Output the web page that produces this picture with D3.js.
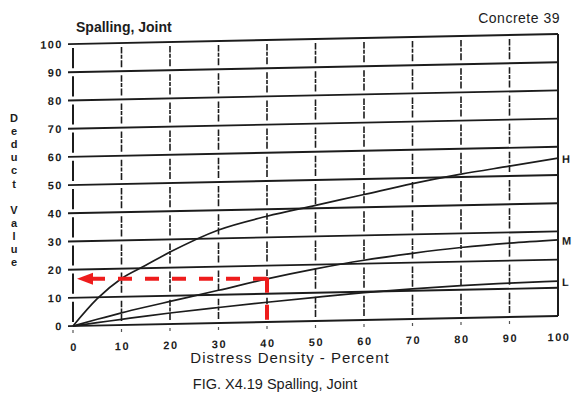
<!DOCTYPE html>
<html>
<head>
<meta charset="utf-8">
<script src="https://cdn.jsdelivr.net/npm/d3@7"></script>
<style>
  body { margin: 0; background: #fff; }
  svg { display: block; }
  text { font-family: "Liberation Sans", Arial, sans-serif; fill: #1c1c1c; }
</style>
</head>
<body>
<svg id="chart" width="572" height="399"></svg>
<script>
// Distress density (percent) ticks and deduct value ticks
const densityTicks = [0, 10, 20, 30, 40, 50, 60, 70, 80, 90, 100];
const deductTicks = [0, 10, 20, 30, 40, 50, 60, 70, 80, 90, 100];

// Deduct value curves by severity level, sampled at these densities
const densityPoints = [0, 5, 10, 15, 20, 30, 40, 50, 60, 70, 80, 90, 100];
const highValues   = [0, 9.5, 16.5, 21, 25.5, 33, 37.5, 41, 44.5, 48, 51, 53.5, 56];
const mediumValues = [0, 2.2, 4.3, 6.2, 8, 11.6, 15.3, 18.5, 21.2, 23.3, 25, 26.2, 27];
const lowValues    = [0, 1, 2, 3, 3.9, 5.5, 7, 8.4, 9.7, 10.7, 11.5, 12, 12.4];
const severityNames = ["H", "M", "L"];

// Worked reading: 40 % density on the medium curve
const readDensity = 40;
const readDeduct = 15.3;

const svg = d3.select("#chart");
const x = d3.scaleLinear().domain([0, 100]).range([73, 558]);
const y = d3.scaleLinear().domain([0, 100]).range([326, 44]);

// the printed sheet sits slightly slanted
const slant = -1.18;
const g = svg.append("g")
  .attr("transform", `translate(${x(0)},0) skewY(${slant}) translate(${-x(0)},0)`);

const ink = "#1c1c1c";

// horizontal grid lines
g.append("g").selectAll("line").data(deductTicks).join("line")
  .attr("x1", x(0) - 5).attr("x2", x(100))
  .attr("y1", d => y(d)).attr("y2", d => y(d))
  .attr("stroke", ink).attr("stroke-width", 1.9);

// broken vertical grid lines, one piece per cell
const cells = [];
densityTicks.slice(0, -1).forEach(dx => {
  deductTicks.slice(0, -1).forEach(dy => cells.push({ dx, dy }));
});
g.append("g").selectAll("line").data(cells).join("line")
  .attr("x1", d => x(d.dx)).attr("x2", d => x(d.dx))
  .attr("y1", d => y(d.dy) - 4).attr("y2", d => y(d.dy + 10) + 4)
  .attr("stroke", ink)
  .attr("stroke-width", d => d.dx === 0 ? 2 : 1.6)
  .attr("stroke-dasharray", d => d.dx === 0 ? null : "7,1.5,4,1.2");

// right frame
g.append("line")
  .attr("x1", x(100)).attr("x2", x(100))
  .attr("y1", y(0)).attr("y2", y(100))
  .attr("stroke", ink).attr("stroke-width", 2);

// small marks under the base line
g.append("g").selectAll("line").data(densityTicks.slice(0, -1)).join("line")
  .attr("x1", d => x(d)).attr("x2", d => x(d))
  .attr("y1", y(0) + 4).attr("y2", y(0) + 7)
  .attr("stroke", "#555").attr("stroke-width", 1.2);

// curves
const seriesList = [highValues, mediumValues, lowValues];
const line = d3.line()
  .x((d, i) => x(densityPoints[i]))
  .y(d => y(d))
  .curve(d3.curveMonotoneX);
g.append("g").selectAll("path").data(seriesList).join("path")
  .attr("d", d => line(d))
  .attr("fill", "none")
  .attr("stroke", ink)
  .attr("stroke-width", 1.7);

// axis labels
g.append("g").selectAll("text").data(densityTicks).join("text")
  .attr("x", d => x(d) + 1).attr("y", y(0) + 25)
  .attr("text-anchor", "middle")
  .attr("font-size", 11).attr("font-weight", "bold")
  .attr("letter-spacing", 1.5)
  .text(d => d);

g.append("g").selectAll("text").data(deductTicks).join("text")
  .attr("x", 63).attr("y", d => y(d) + 4)
  .attr("text-anchor", "end")
  .attr("font-size", 11).attr("font-weight", "bold")
  .attr("letter-spacing", 1.5)
  .text(d => d);

// vertical stacked axis title
const yTitle = "Deduct Value".split("");
svg.append("g").selectAll("text").data(yTitle).join("text")
  .attr("x", 14).attr("y", (d, i) => 122 + i * 13.1)
  .attr("text-anchor", "middle")
  .attr("font-size", 11).attr("font-weight", "bold")
  .text(d => d);

svg.append("text")
  .attr("x", 290).attr("y", 363)
  .attr("text-anchor", "middle")
  .attr("font-size", 15).attr("letter-spacing", 1)
  .text("Distress Density - Percent");

svg.append("text")
  .attr("x", 275).attr("y", 389)
  .attr("text-anchor", "middle")
  .attr("font-size", 14.5)
  .text("FIG. X4.19 Spalling, Joint");

svg.append("text")
  .attr("x", 76).attr("y", 32)
  .attr("font-size", 14).attr("font-weight", "bold")
  .text("Spalling, Joint");

svg.append("text")
  .attr("x", 560).attr("y", 23)
  .attr("text-anchor", "end")
  .attr("font-size", 14).attr("letter-spacing", 0.5)
  .text("Concrete 39");

// severity letters at the right margin
const curveEnds = seriesList.map(v => v[v.length - 1]);
g.append("g").selectAll("text").data(severityNames).join("text")
  .attr("x", 562)
  .attr("y", (d, i) => y(curveEnds[i]) + 5)
  .attr("font-size", 11).attr("font-weight", "bold")
  .text(d => d);

// red reading guide: from the curve at 40 % down to the base and across to the axis
const cx = x(readDensity);
const guide = g.append("g")
  .attr("transform", `translate(${cx},0) skewY(${-slant}) translate(${-cx},0)`);
const red = "#ee1c1c";
guide.append("line")
  .attr("x1", cx).attr("x2", x(0) + 18)
  .attr("y1", y(readDeduct)).attr("y2", y(readDeduct))
  .attr("stroke", red).attr("stroke-width", 4)
  .attr("stroke-dasharray", "14,13");
guide.append("line")
  .attr("x1", cx).attr("x2", cx)
  .attr("y1", y(readDeduct) - 1).attr("y2", y(0) + 2)
  .attr("stroke", red).attr("stroke-width", 4)
  .attr("stroke-dasharray", "15,12");
guide.append("path")
  .attr("d", `M${x(0) + 4},${y(readDeduct)} L${x(0) + 20},${y(readDeduct) - 6} L${x(0) + 20},${y(readDeduct) + 6} Z`)
  .attr("fill", red);
</script>
</body>
</html>
